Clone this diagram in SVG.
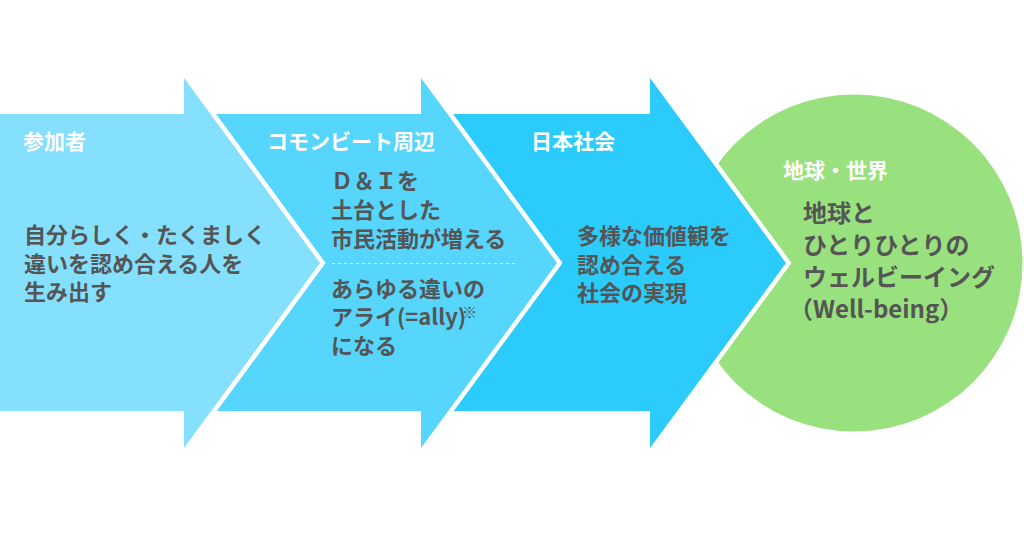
<svg xmlns="http://www.w3.org/2000/svg" xmlns:xlink="http://www.w3.org/1999/xlink" width="1024" height="538" viewBox="0 0 1024 538">
  <defs>
    <style>
      .gap { fill: #ffffff; stroke: #ffffff; stroke-width: 9; stroke-linejoin: miter; stroke-miterlimit: 10; }
      .hd { font-family: "Noto Sans CJK JP", "Noto Sans", sans-serif; font-weight: 700; font-size: 21px; fill: #ffffff; }
      .tx { font-family: "Noto Sans CJK JP", "Noto Sans", sans-serif; font-weight: 700; font-size: 22px; fill: #555555; }
      .tx2 { font-family: "Noto Sans CJK JP", "Noto Sans", sans-serif; font-weight: 700; font-size: 24px; fill: #555555; }
      .note { font-family: "Noto Sans CJK JP", "Noto Sans", sans-serif; font-weight: 400; font-size: 15px; fill: #555555; }
      .sep { stroke: #d6f4fe; stroke-width: 1; stroke-dasharray: 3 3; fill: none; }
    </style>
    <path id="a1" d="M0,114 H184 V78 L320,263 L184,448 V411 H0 Z"/>
    <path id="a2" d="M190,114 H421 V78 L557,263 L421,448 V411 H190 Z"/>
    <path id="a3" d="M430,114 H650 V78 L786,263 L650,448 V411 H430 Z"/>
  </defs>
  <rect width="1024" height="538" fill="#ffffff"/>

  <g id="world">
    <circle cx="854" cy="263" r="168.5" fill="#98e17e"/>
    <text class="hd" x="783" y="178">地球・世界</text>
    <text class="tx2" x="803" y="222">地球と</text>
    <text class="tx2" x="803" y="254">ひとりひとりの</text>
    <text class="tx2" x="803" y="286">ウェルビーイング</text>
    <text class="tx2" x="789" y="318">（Well-being）</text>
  </g>

  <g id="japan">
    <use xlink:href="#a3" class="gap"/>
    <use xlink:href="#a3" fill="#2bcbfc"/>
    <text class="hd" x="531" y="148.5">日本社会</text>
    <text class="tx" x="577" y="244">多様な価値観を</text>
    <text class="tx" x="577" y="272.5">認め合える</text>
    <text class="tx" x="577" y="301">社会の実現</text>
  </g>

  <g id="commonbeat">
    <use xlink:href="#a2" class="gap"/>
    <use xlink:href="#a2" fill="#56d6fc"/>
    <text class="hd" x="267" y="148.5">コモンビート周辺</text>
    <text class="tx" x="331" y="188.5">Ｄ＆Ｉを</text>
    <text class="tx" x="331" y="218">土台とした</text>
    <text class="tx" x="331" y="246.5">市民活動が増える</text>
    <line class="sep" x1="332" y1="263.5" x2="515" y2="263.5"/>
    <text class="tx" x="331" y="296.5">あらゆる違いの</text>
    <text class="tx" x="331" y="325">アライ(=ally)</text>
    <text class="note" x="462" y="318">※</text>
    <text class="tx" x="331" y="353.5">になる</text>
  </g>

  <g id="participants">
    <use xlink:href="#a1" class="gap"/>
    <use xlink:href="#a1" fill="#85e0fd"/>
    <text class="hd" x="23" y="148.5">参加者</text>
    <text class="tx" x="24" y="243">自分らしく・たくましく</text>
    <text class="tx" x="24" y="271.5">違いを認め合える人を</text>
    <text class="tx" x="24" y="300">生み出す</text>
  </g>

  <g id="connectors"/>
</svg>
